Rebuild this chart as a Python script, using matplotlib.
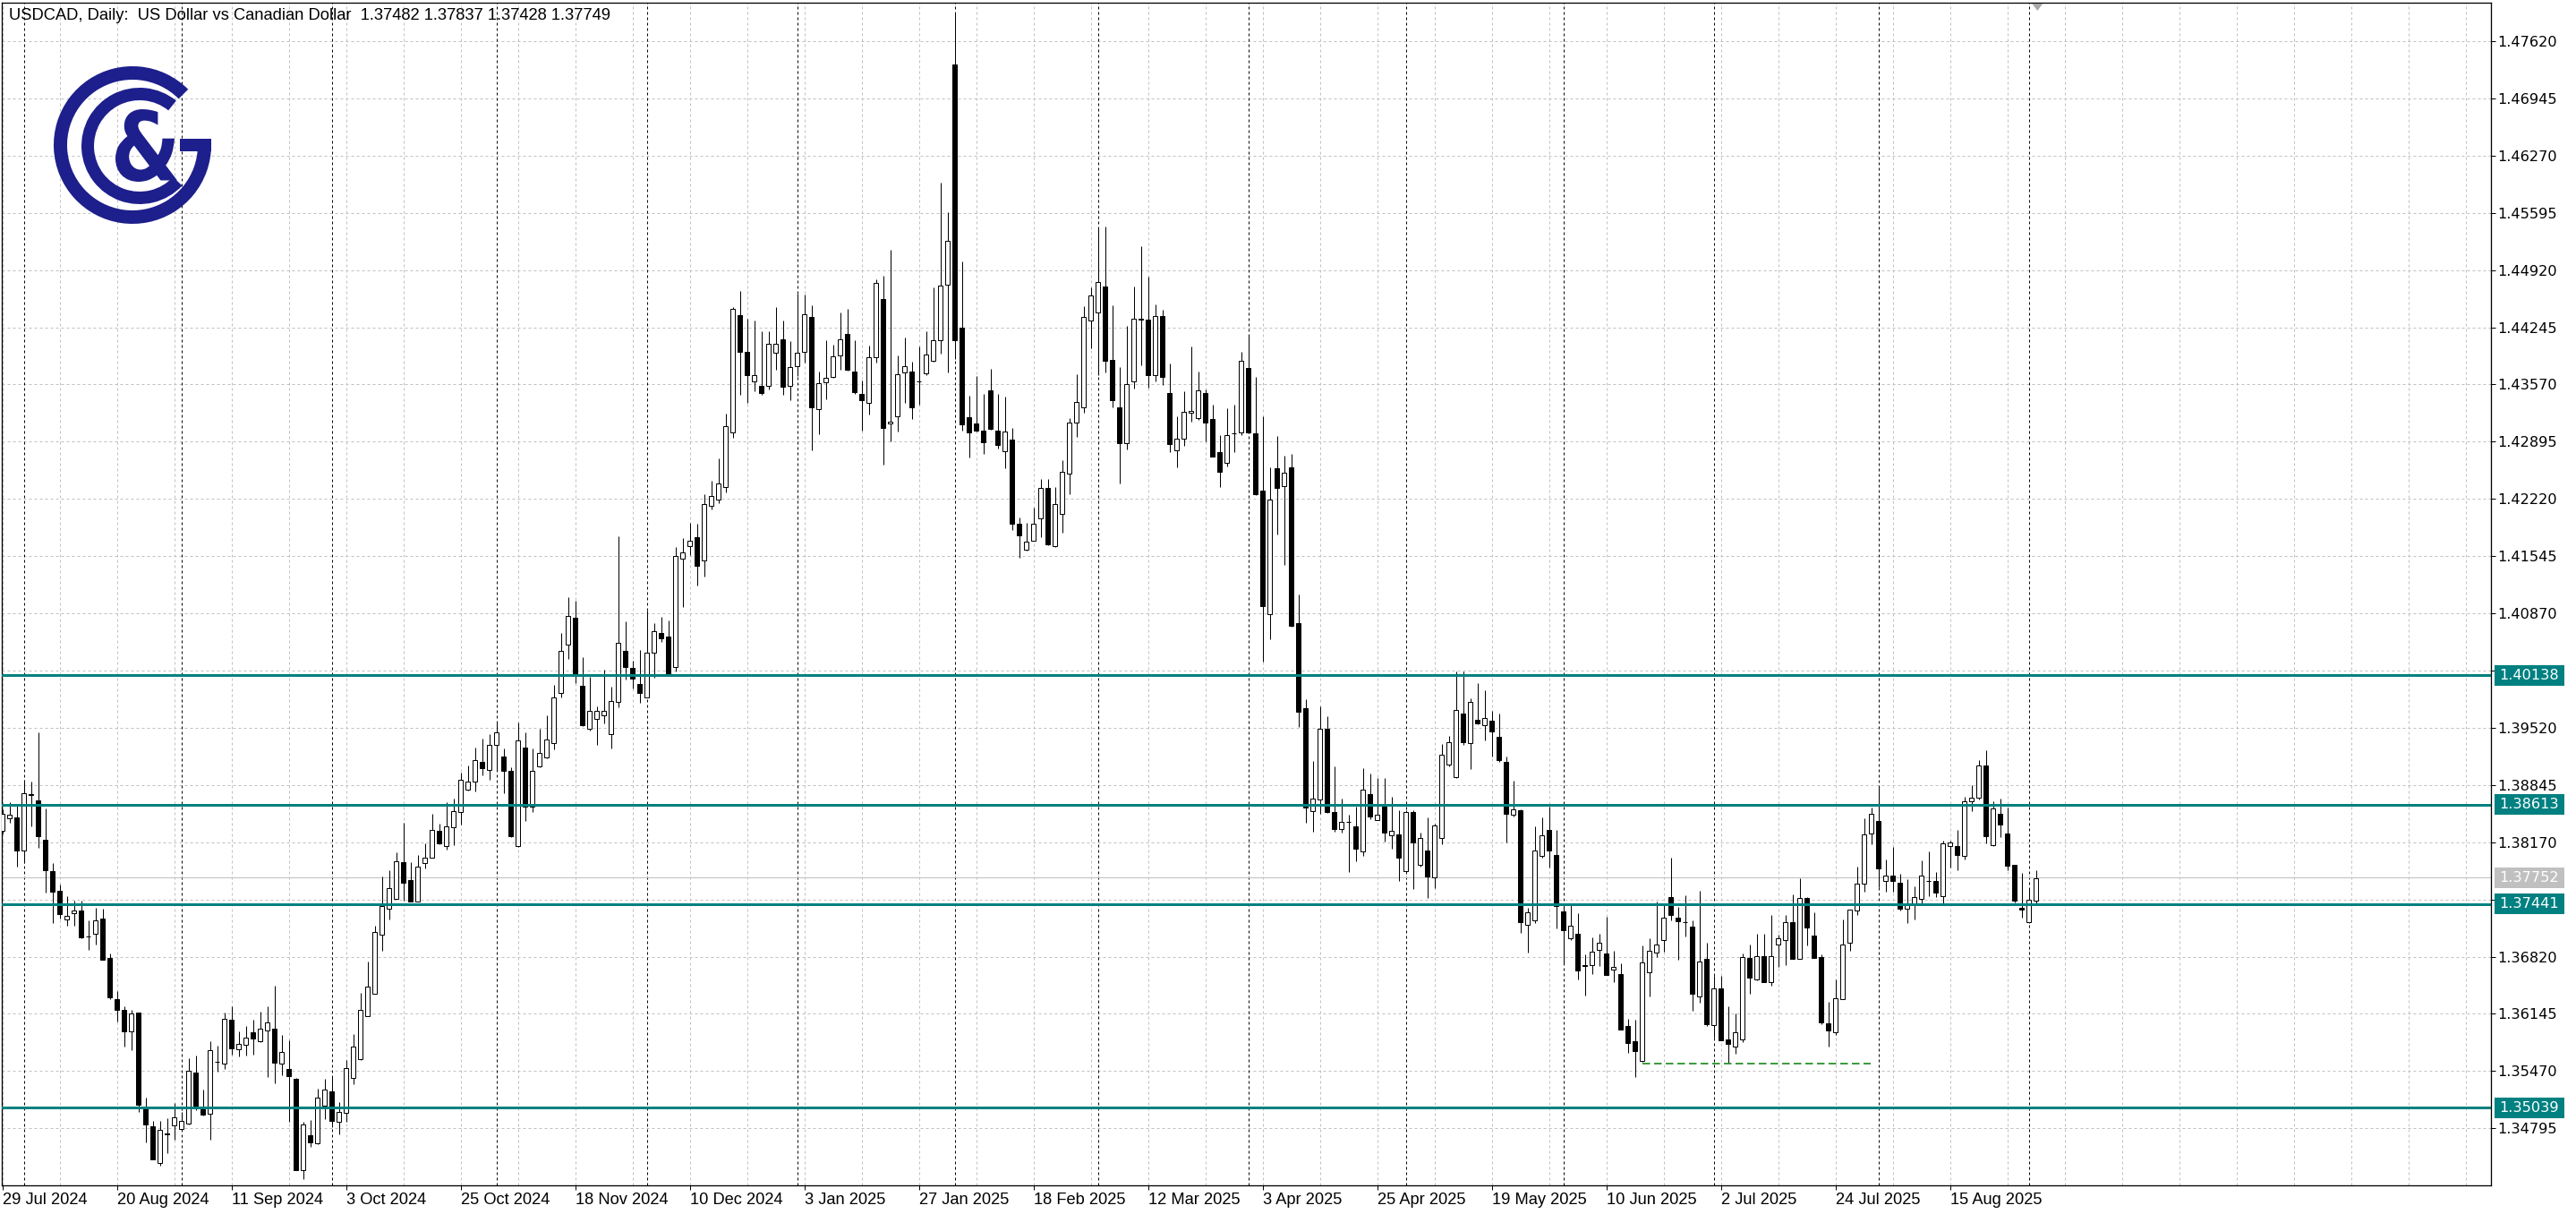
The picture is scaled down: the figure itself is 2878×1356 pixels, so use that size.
import numpy as np
import pandas as pd
import matplotlib
matplotlib.use("Agg")
import matplotlib.pyplot as plt
from matplotlib.patches import Rectangle, Wedge, PathPatch, Polygon
from matplotlib.textpath import TextPath
from matplotlib.font_manager import FontProperties, findfont
from matplotlib.transforms import Affine2D

plt.rcParams['lines.scale_dashes'] = False
plt.rcParams['font.family'] = ['DejaVu Sans']

# ---------------------------------------------------------------- data
title_text = "USDCAD, Daily:  US Dollar vs Canadian Dollar  1.37482 1.37837 1.37428 1.37749"
first_day = "2024-07-29"
last_day = "2025-09-02"
market_holidays = ["2024-12-25", "2025-01-01"]

opens = [
    1.38308, 1.38448, 1.38466, 1.38072, 1.38740, 1.38666, 1.38202, 1.37833, 1.37594, 1.37263,
    1.37334, 1.37369, 1.37062, 1.37095, 1.37270, 1.36803, 1.36320, 1.36187, 1.35934, 1.36159,
    1.35027, 1.34816, 1.34391, 1.34735, 1.34827, 1.34792, 1.34848, 1.35449, 1.35016, 1.34964,
    1.35575, 1.35561, 1.36071, 1.35723, 1.35776, 1.35923, 1.35818, 1.35952, 1.35966, 1.35554,
    1.35491, 1.35379, 1.34299, 1.34711, 1.34623, 1.35059, 1.35231, 1.34869, 1.34974, 1.35386,
    1.35607, 1.36121, 1.36385, 1.37084, 1.37390, 1.37506, 1.37938, 1.37727, 1.37471, 1.37928,
    1.37991, 1.38308, 1.38121, 1.38342, 1.38526, 1.38789, 1.38883, 1.39114, 1.39025, 1.39314,
    1.39182, 1.39009, 1.38122, 1.39287, 1.38589, 1.39067, 1.39167, 1.39335, 1.39933, 1.40505,
    1.40820, 1.40012, 1.39513, 1.39629, 1.39671, 1.39445, 1.39828, 1.40426, 1.40222, 1.40038,
    1.39880, 1.40405, 1.40636, 1.40600, 1.40232, 1.41518, 1.41665, 1.41770, 1.41492, 1.42138,
    1.42216, 1.42358, 1.43004, 1.44389, 1.43959, 1.43602, 1.43555, 1.43555, 1.43948, 1.44106,
    1.43555, 1.43791, 1.43959, 1.44363, 1.43277, 1.43592, 1.43655, 1.43917, 1.44169, 1.43723,
    1.43460, 1.43355, 1.43896, 1.44575, 1.43111, 1.43193, 1.43707, 1.43726, 1.43607, 1.43702,
    1.43848, 1.44090, 1.44745, 1.47344, 1.44240, 1.43183, 1.43111, 1.43024, 1.43498, 1.43028,
    1.42781, 1.42917, 1.41923, 1.41617, 1.41729, 1.41986, 1.42345, 1.41666, 1.42044, 1.42514,
    1.43120, 1.43305, 1.44323, 1.44420, 1.44725, 1.43862, 1.43295, 1.42878, 1.43610, 1.44340,
    1.44332, 1.43678, 1.44381, 1.43465, 1.42795, 1.42926, 1.43241, 1.43169, 1.43474, 1.43159,
    1.42771, 1.42650, 1.42990, 1.43004, 1.43765, 1.42989, 1.42320, 1.40856, 1.42577, 1.42374,
    1.42592, 1.40755, 1.39753, 1.38532, 1.38669, 1.39510, 1.38521, 1.38325, 1.38414, 1.38355,
    1.38058, 1.38740, 1.38432, 1.38592, 1.38254, 1.38266, 1.37827, 1.38521, 1.37898, 1.38076,
    1.37750, 1.38224, 1.39084, 1.38935, 1.39688, 1.39338, 1.39617, 1.39546, 1.39605, 1.39410,
    1.39113, 1.38491, 1.38550, 1.37199, 1.37246, 1.38005, 1.38313, 1.38017, 1.37353, 1.37039,
    1.37086, 1.36715, 1.36725, 1.36903, 1.36861, 1.36666, 1.36612, 1.36002, 1.35824, 1.35587,
    1.36637, 1.36863, 1.37021, 1.37518, 1.37285, 1.37230, 1.37173, 1.36355, 1.36792, 1.36017,
    1.36443, 1.35841, 1.35763, 1.35844, 1.36803, 1.36556, 1.36831, 1.36521, 1.36968, 1.37021,
    1.37226, 1.36796, 1.37508, 1.37067, 1.36813, 1.36038, 1.35932, 1.36320, 1.36986, 1.37367,
    1.37677, 1.38270, 1.38420, 1.37713, 1.37776, 1.37695, 1.37381, 1.37431, 1.37501, 1.37713,
    1.37713, 1.37536, 1.38122, 1.38122, 1.38005, 1.38651, 1.38694, 1.39072, 1.38136, 1.38507,
    1.38277, 1.37900, 1.37395, 1.37222, 1.37482,
]
highs = [
    1.38554, 1.38642, 1.38600, 1.38905, 1.38888, 1.39468, 1.38565, 1.37921, 1.37675, 1.37534,
    1.37481, 1.37481, 1.37253, 1.37394, 1.37383, 1.36856, 1.36412, 1.36233, 1.36187, 1.36165,
    1.35157, 1.34879, 1.34879, 1.34915, 1.35090, 1.34992, 1.35625, 1.35653, 1.35249, 1.35825,
    1.35765, 1.36159, 1.36233, 1.35941, 1.36001, 1.36075, 1.36170, 1.36233, 1.36479, 1.35895,
    1.35836, 1.35390, 1.34869, 1.34893, 1.35263, 1.35379, 1.35396, 1.35104, 1.35600, 1.35906,
    1.36391, 1.36761, 1.37190, 1.37763, 1.37843, 1.38054, 1.38395, 1.37938, 1.38019, 1.38160,
    1.38501, 1.38385, 1.38642, 1.38683, 1.38988, 1.39077, 1.39287, 1.39392, 1.39445, 1.39586,
    1.39271, 1.39051, 1.39586, 1.39471, 1.39277, 1.39508, 1.39671, 1.40022, 1.40642, 1.41056,
    1.41019, 1.40353, 1.40117, 1.39776, 1.40206, 1.40006, 1.41781, 1.40773, 1.40311, 1.40442,
    1.40899, 1.40757, 1.40825, 1.40788, 1.41649, 1.41754, 1.41938, 1.41928, 1.42274, 1.42437,
    1.42699, 1.43224, 1.44484, 1.44668, 1.44342, 1.44326, 1.44195, 1.44195, 1.44484, 1.44326,
    1.44080, 1.44641, 1.44631, 1.44500, 1.43723, 1.44090, 1.44038, 1.44416, 1.44458, 1.44090,
    1.43618, 1.44027, 1.44809, 1.44856, 1.45162, 1.43911, 1.44129, 1.43838, 1.44017, 1.44202,
    1.44711, 1.45947, 1.45598, 1.47945, 1.45026, 1.43440, 1.43668, 1.43460, 1.43755, 1.43460,
    1.43426, 1.43053, 1.42005, 1.41937, 1.42117, 1.42456, 1.42456, 1.42359, 1.42674, 1.43169,
    1.43692, 1.44493, 1.44711, 1.45424, 1.45438, 1.44502, 1.43775, 1.44265, 1.44725, 1.45205,
    1.44847, 1.44517, 1.44454, 1.43814, 1.43198, 1.43489, 1.44017, 1.43726, 1.43508, 1.43329,
    1.42975, 1.43290, 1.43329, 1.43959, 1.44153, 1.43658, 1.43193, 1.42592, 1.42965, 1.42732,
    1.42747, 1.41098, 1.39854, 1.39125, 1.39777, 1.39658, 1.39066, 1.38687, 1.38491, 1.38592,
    1.39042, 1.38983, 1.38924, 1.38924, 1.38710, 1.38550, 1.38550, 1.38550, 1.38283, 1.38461,
    1.38390, 1.39332, 1.39427, 1.40180, 1.40180, 1.39872, 1.40044, 1.39961, 1.39724, 1.39688,
    1.39184, 1.38894, 1.38562, 1.37395, 1.38355, 1.38461, 1.38592, 1.38313, 1.37424, 1.37424,
    1.37337, 1.36849, 1.37051, 1.37086, 1.37294, 1.36891, 1.36743, 1.36091, 1.36079, 1.36950,
    1.37039, 1.37472, 1.37450, 1.37983, 1.37402, 1.37543, 1.37250, 1.37596, 1.36989, 1.36591,
    1.36591, 1.36239, 1.36151, 1.36855, 1.36961, 1.37092, 1.37095, 1.37307, 1.37078, 1.37314,
    1.37550, 1.37744, 1.37518, 1.37342, 1.36848, 1.36292, 1.36556, 1.37261, 1.37380, 1.37878,
    1.38452, 1.38581, 1.38825, 1.37963, 1.38111, 1.37801, 1.37737, 1.37654, 1.37960, 1.38065,
    1.37819, 1.38193, 1.38193, 1.38316, 1.38701, 1.38842, 1.39135, 1.39252, 1.38648, 1.38687,
    1.38581, 1.37907, 1.37807, 1.37617, 1.37837,
]
lows = [
    1.38273, 1.38396, 1.37886, 1.37921, 1.38360, 1.38107, 1.37580, 1.37218, 1.37270, 1.37183,
    1.37183, 1.37042, 1.36901, 1.36961, 1.36780, 1.36314, 1.36050, 1.35758, 1.35720, 1.34992,
    1.34633, 1.34425, 1.34355, 1.34507, 1.34665, 1.34785, 1.34840, 1.35009, 1.34948, 1.34665,
    1.35467, 1.35491, 1.35667, 1.35642, 1.35656, 1.35667, 1.35807, 1.35403, 1.35326, 1.35424,
    1.34869, 1.34300, 1.34201, 1.34581, 1.34605, 1.34904, 1.34806, 1.34728, 1.34869, 1.35315,
    1.35600, 1.36115, 1.36380, 1.36891, 1.37263, 1.37500, 1.37481, 1.37465, 1.37465, 1.37858,
    1.37985, 1.38149, 1.38079, 1.38132, 1.38379, 1.38780, 1.38773, 1.38957, 1.38904, 1.39025,
    1.38752, 1.38230, 1.38115, 1.38421, 1.38526, 1.39051, 1.39160, 1.39261, 1.39880, 1.40337,
    1.40048, 1.39545, 1.39487, 1.39314, 1.39576, 1.39277, 1.39760, 1.40090, 1.39986, 1.39812,
    1.39875, 1.40112, 1.40531, 1.40127, 1.40180, 1.40941, 1.41555, 1.41203, 1.41308, 1.42096,
    1.42174, 1.42295, 1.42946, 1.43450, 1.43355, 1.43487, 1.43450, 1.43513, 1.43749, 1.43445,
    1.43382, 1.43670, 1.43828, 1.42794, 1.42988, 1.43397, 1.43644, 1.43749, 1.43733, 1.43460,
    1.43030, 1.43214, 1.43828, 1.42626, 1.42902, 1.43014, 1.43353, 1.43159, 1.43329, 1.43678,
    1.43838, 1.43935, 1.43717, 1.43872, 1.43024, 1.42708, 1.43020, 1.42747, 1.43038, 1.42810,
    1.42577, 1.41850, 1.41525, 1.41612, 1.41725, 1.41768, 1.41670, 1.41656, 1.41826, 1.42272,
    1.42951, 1.43232, 1.43998, 1.43678, 1.43717, 1.43305, 1.42398, 1.42805, 1.43523, 1.43799,
    1.43537, 1.43605, 1.43562, 1.42771, 1.42592, 1.42844, 1.43135, 1.43149, 1.42902, 1.42720,
    1.42359, 1.42601, 1.42771, 1.42975, 1.42989, 1.42265, 1.40300, 1.40565, 1.41802, 1.41438,
    1.40710, 1.39528, 1.38402, 1.38295, 1.38509, 1.38515, 1.38295, 1.38283, 1.37821, 1.37946,
    1.38005, 1.38444, 1.38426, 1.38177, 1.38094, 1.37709, 1.37810, 1.37620, 1.37880, 1.37513,
    1.37632, 1.38147, 1.39066, 1.38924, 1.39320, 1.39036, 1.39565, 1.39368, 1.39184, 1.39113,
    1.38165, 1.38473, 1.37098, 1.36873, 1.37217, 1.37987, 1.37869, 1.37158, 1.36743, 1.37021,
    1.36547, 1.36358, 1.36612, 1.36713, 1.36600, 1.36523, 1.35955, 1.35688, 1.35400, 1.35580,
    1.36352, 1.36810, 1.36880, 1.37250, 1.36785, 1.37060, 1.36179, 1.36274, 1.35999, 1.35869,
    1.35830, 1.35569, 1.35675, 1.35809, 1.36380, 1.36538, 1.36515, 1.36475, 1.36697, 1.36722,
    1.36790, 1.36790, 1.36954, 1.36800, 1.36027, 1.35763, 1.35897, 1.36315, 1.36891, 1.37314,
    1.37589, 1.38147, 1.37635, 1.37589, 1.37589, 1.37360, 1.37218, 1.37264, 1.37448, 1.37536,
    1.37518, 1.37448, 1.37875, 1.37836, 1.37963, 1.38535, 1.38676, 1.38154, 1.38130, 1.38228,
    1.37840, 1.37458, 1.37275, 1.37218, 1.37428,
]
closes = [
    1.38501, 1.38494, 1.38072, 1.38747, 1.38732, 1.38244, 1.37840, 1.37587, 1.37323, 1.37306,
    1.37369, 1.37049, 1.37058, 1.37253, 1.36785, 1.36339, 1.36190, 1.35934, 1.36152, 1.35073,
    1.34844, 1.34433, 1.34781, 1.34725, 1.34922, 1.34886, 1.35477, 1.35052, 1.34953, 1.35713,
    1.35582, 1.36082, 1.35741, 1.35786, 1.35860, 1.35853, 1.35966, 1.36040, 1.35572, 1.35691,
    1.35407, 1.34306, 1.34841, 1.34633, 1.35157, 1.35249, 1.34886, 1.34985, 1.35502, 1.35755,
    1.36187, 1.36469, 1.37112, 1.37422, 1.37633, 1.37949, 1.37692, 1.37471, 1.37886, 1.37984,
    1.38318, 1.38156, 1.38360, 1.38541, 1.38904, 1.38883, 1.39140, 1.39041, 1.39314, 1.39461,
    1.39009, 1.38237, 1.39366, 1.38589, 1.39009, 1.39224, 1.39377, 1.39880, 1.40426, 1.40836,
    1.40153, 1.39550, 1.39723, 1.39723, 1.39723, 1.39838, 1.40521, 1.40232, 1.40101, 1.39933,
    1.40405, 1.40663, 1.40574, 1.40143, 1.41544, 1.41586, 1.41728, 1.41429, 1.42164, 1.42253,
    1.42400, 1.43077, 1.44458, 1.43959, 1.43681, 1.43681, 1.43471, 1.44048, 1.44053, 1.43539,
    1.43775, 1.43943, 1.44395, 1.43303, 1.43581, 1.43644, 1.43906, 1.44106, 1.43749, 1.43476,
    1.43382, 1.43891, 1.44773, 1.43053, 1.43135, 1.43692, 1.43789, 1.43305, 1.43605, 1.43920,
    1.44090, 1.44735, 1.45268, 1.44095, 1.43101, 1.43004, 1.43024, 1.42892, 1.43048, 1.42854,
    1.43014, 1.41923, 1.41792, 1.41719, 1.41923, 1.42345, 1.41680, 1.42155, 1.42539, 1.43120,
    1.43363, 1.44362, 1.44623, 1.44774, 1.43848, 1.43387, 1.42878, 1.43571, 1.44342, 1.44345,
    1.43678, 1.44381, 1.43658, 1.42868, 1.42926, 1.43246, 1.43256, 1.43498, 1.43120, 1.42723,
    1.42543, 1.42975, 1.42995, 1.43848, 1.43004, 1.42272, 1.40953, 1.42214, 1.42349, 1.42529,
    1.40725, 1.39706, 1.38580, 1.38687, 1.39510, 1.38521, 1.38325, 1.38414, 1.38410, 1.38088,
    1.38787, 1.38473, 1.38491, 1.38283, 1.38301, 1.37987, 1.38521, 1.38165, 1.38224, 1.37762,
    1.38372, 1.39202, 1.39350, 1.39735, 1.39350, 1.39824, 1.39569, 1.39634, 1.39480, 1.39143,
    1.38509, 1.38562, 1.37229, 1.37347, 1.38076, 1.38254, 1.38076, 1.37412, 1.37128, 1.37187,
    1.36654, 1.36710, 1.36879, 1.36980, 1.36606, 1.36695, 1.35960, 1.35806, 1.35706, 1.36755,
    1.36884, 1.36968, 1.37285, 1.37314, 1.37233, 1.37222, 1.36380, 1.36767, 1.36020, 1.36443,
    1.35833, 1.35791, 1.35932, 1.36820, 1.36574, 1.36831, 1.36521, 1.36831, 1.37032, 1.37226,
    1.36796, 1.37508, 1.37166, 1.36803, 1.36045, 1.35950, 1.36327, 1.36961, 1.37374, 1.37684,
    1.38265, 1.38500, 1.37857, 1.37776, 1.37713, 1.37381, 1.37431, 1.37522, 1.37776, 1.37710,
    1.37571, 1.38157, 1.38164, 1.38016, 1.38655, 1.38694, 1.39075, 1.38242, 1.38570, 1.38376,
    1.37889, 1.37476, 1.37377, 1.37487, 1.37749,
]

date_labels = ["29 Jul 2024", "20 Aug 2024", "11 Sep 2024", "3 Oct 2024", "25 Oct 2024",
               "18 Nov 2024", "10 Dec 2024", "3 Jan 2025", "27 Jan 2025", "18 Feb 2025",
               "12 Mar 2025", "3 Apr 2025", "25 Apr 2025", "19 May 2025", "10 Jun 2025",
               "2 Jul 2025", "24 Jul 2025", "15 Aug 2025"]
price_ticks = [1.47620, 1.46945, 1.46270, 1.45595, 1.44920, 1.44245, 1.43570, 1.42895,
               1.42220, 1.41545, 1.40870, 1.40195, 1.39520, 1.38845, 1.38170, 1.37495,
               1.36820, 1.36145, 1.35470, 1.34795]
level_prices = [1.40138, 1.38613, 1.37441, 1.35039]
bid_price = 1.37752
support_price = 1.35560
support_start = "2025-06-17"
support_end = "2025-07-31"

# ---------------------------------------------------------------- layout
W, H, DPI = 2878, 1356, 100
PX = 72.0 / DPI                     # one pixel in points
PLOT_L, PLOT_R, PLOT_T, PLOT_B = 2, 2783, 3, 1324
BAR_PX, BAR0_PX = 8.0, 2.7          # bar spacing and first bar centre (pixels)
LABEL_EVERY = 16                    # bars between date labels
GRID_EVERY = 8                      # bars between vertical grid lines
REF_PRICE, REF_Y, PX_PER_PRICE = 1.47620, 46.0, 9468.0

TEAL = '#008080'
GRID_C = '#c0c0c0'
NAVY = '#1d1f8c'


def pick_family(candidates):
    for fam in candidates:
        try:
            findfont(FontProperties(family=fam), fallback_to_default=False)
            return fam
        except Exception:
            continue
    return 'DejaVu Sans'


NARROW_FAMILY = pick_family(['Liberation Sans Narrow', 'Liberation Sans', 'DejaVu Sans'])
FP_NARROW = FontProperties(family=NARROW_FAMILY)
FP_NORMAL = FontProperties(family='DejaVu Sans')

dates = pd.bdate_range(first_day, last_day)
dates = dates[~dates.isin(pd.to_datetime(market_holidays))]
o = np.array(opens); h = np.array(highs); l = np.array(lows); c = np.array(closes)
x = np.arange(len(dates))

xlim = ((PLOT_L - BAR0_PX) / BAR_PX, (PLOT_R - BAR0_PX) / BAR_PX)
ylim = (REF_PRICE - (PLOT_B - REF_Y) / PX_PER_PRICE, REF_PRICE + (REF_Y - PLOT_T) / PX_PER_PRICE)


def fit_size(s, target_px, prop, base=10.0):
    p = prop.copy()
    p.set_size(base)
    tp = TextPath((0, 0), s, prop=p)
    w = tp.get_extents().width * DPI / 72.0
    return base * target_px / w


fs_title = fit_size(title_text, 673, FP_NARROW)
fs_price = fit_size("1.47620", 64, FP_NORMAL)
fs_date = fit_size("29 Jul 2024", 93, FP_NARROW)

fig = plt.figure(figsize=(W / DPI, H / DPI), dpi=DPI)
fig.patch.set_facecolor('white')
ax = fig.add_axes([PLOT_L / W, 1 - PLOT_B / H, (PLOT_R - PLOT_L) / W, (PLOT_B - PLOT_T) / H])
ax.set_xlim(xlim)
ax.set_ylim(ylim)
ax.set_facecolor('white')
for s in ax.spines.values():
    s.set_linewidth(1.3 * PX)
    s.set_color('black')

# grid
for gx in np.arange(0, xlim[1], GRID_EVERY):
    ax.axvline(gx, color=GRID_C, lw=PX, ls=(0, (3 * PX, 3 * PX)), zorder=1)
for p in price_ticks:
    ax.axhline(p, color=GRID_C, lw=PX, ls=(0, (3 * PX, 3 * PX)), zorder=1)

# month period separators
month_start = np.r_[False, dates.month[1:] != dates.month[:-1]]
for mx in x[month_start]:
    ax.axvline(mx, color='black', lw=PX, ls=(0, (3 * PX, 3 * PX)), zorder=1.5)

# bid line
ax.axhline(bid_price, color=GRID_C, lw=PX, zorder=2)

# candles
up = c >= o
body_bot = np.minimum(o, c)
body_h = np.maximum(np.abs(c - o), 1e-6)
ax.vlines(x, l, h, color='black', lw=PX, zorder=3)
ax.bar(x, body_h, bottom=body_bot, width=0.6,
       color=np.where(up, 'white', 'black'), edgecolor='black', linewidth=PX, zorder=4)

# support dashed line
d_idx = {d: i for i, d in enumerate(dates)}
sx0 = d_idx[pd.Timestamp(support_start)]
sx1 = d_idx[pd.Timestamp(support_end)] - 0.15
ax.hlines(support_price, sx0, sx1, color='#007a00', lw=1.5 * PX,
          linestyles=[(0, (8.5 * PX, 4.5 * PX))], zorder=5)

# horizontal levels
for lv in level_prices:
    ax.axhline(lv, color=TEAL, lw=3 * PX, zorder=6)

# ticks
ax.yaxis.tick_right()
ax.set_yticks(price_ticks)
ax.set_yticklabels([f"{p:.5f}" for p in price_ticks], fontproperties=FP_NORMAL, fontsize=fs_price)
ax.tick_params(axis='y', direction='out', length=5 * PX, width=PX, pad=2 * PX, colors='black')
label_bars = np.arange(len(date_labels)) * LABEL_EVERY
ax.set_xticks(label_bars)
ax.set_xticklabels(date_labels, ha='left', fontproperties=FP_NARROW, fontsize=fs_date)
ax.tick_params(axis='x', direction='out', length=5 * PX, width=PX, pad=3 * PX, colors='black')

# price boxes on the scale
rax = fig.add_axes([PLOT_R / W, 1 - PLOT_B / H, (W - PLOT_R) / W, (PLOT_B - PLOT_T) / H])
rax.set_xlim(0, W - PLOT_R)
rax.set_ylim(ylim)
rax.axis('off')
box_h = 23 / PX_PER_PRICE
for lv, col in [(bid_price, '#c0c0c0')] + [(lv, TEAL) for lv in level_prices]:
    rax.add_patch(Rectangle((4, lv - box_h / 2), 78, box_h, facecolor=col, edgecolor='none'))
    rax.text(43, lv, f"{lv:.5f}", color='white', fontproperties=FP_NORMAL, fontsize=fs_price,
             ha='center', va='center')

# overlay in pixel coordinates: logo and shift marker
lax = fig.add_axes([0, 0, 1, 1])
lax.set_xlim(0, W)
lax.set_ylim(H, 0)
lax.axis('off')
lax.add_patch(Wedge((148, 162), 88, 0, 315, width=15, color=NAVY, lw=0))
lax.add_patch(Rectangle((201, 155), 35, 14, color=NAVY, lw=0))
lax.add_patch(Wedge((156, 163), 65, 43, 309, width=14, color=NAVY, lw=0))
tp = TextPath((0, 0), "&", size=100, prop=FontProperties(family='DejaVu Sans', weight='bold'))
ext = tp.get_extents()
tr = Affine2D().translate(-ext.x0, -ext.y0).scale(69 / ext.width, -81 / ext.height).translate(129, 203)
lax.add_patch(PathPatch(tr.transform_path(tp), color=NAVY, lw=0))
shift_x = BAR0_PX + BAR_PX * (len(dates) - 1 + 0.2)
lax.add_patch(Polygon([(shift_x - 6, PLOT_T + 1), (shift_x + 6, PLOT_T + 1), (shift_x, PLOT_T + 9)],
                      closed=True, color='#a8a8a8', lw=0))

fig.text(10 / W, 1 - 18 / H, title_text, fontproperties=FP_NARROW, fontsize=fs_title,
         ha='left', va='center', color='black')

fig.savefig("out.png", dpi=DPI, facecolor='white')
